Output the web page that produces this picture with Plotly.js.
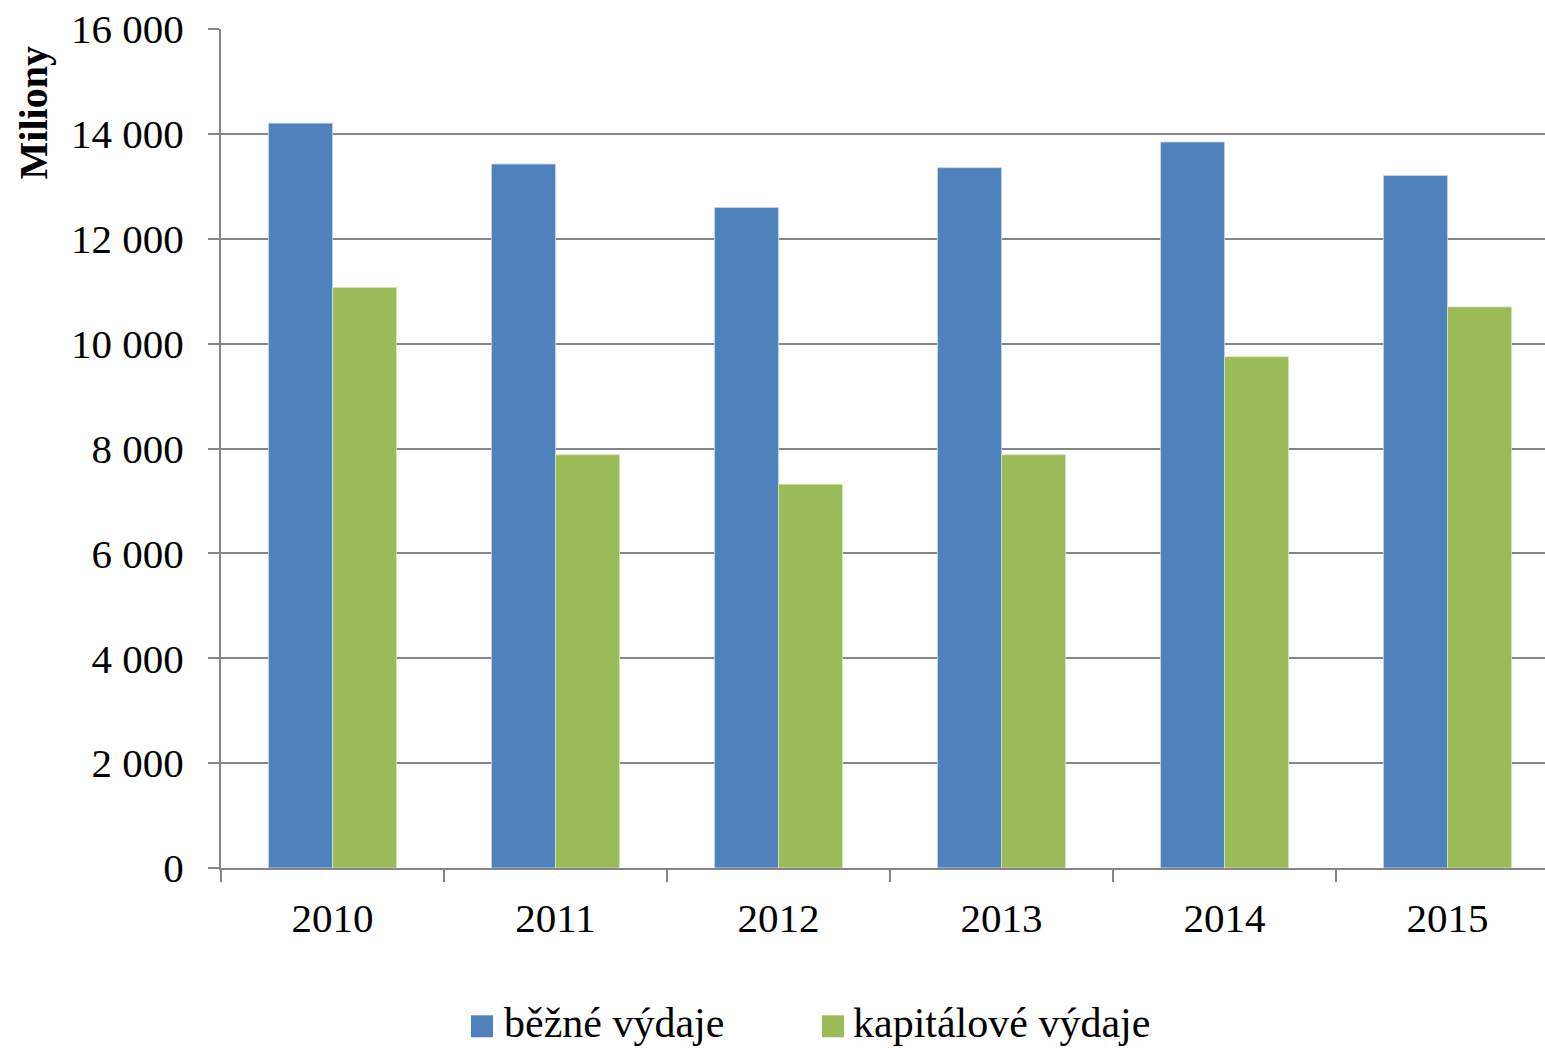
<!DOCTYPE html>
<html>
<head>
<meta charset="utf-8">
<script src="https://cdn.plot.ly/plotly-3.0.1.min.js"></script>
<style>html,body{margin:0;padding:0;background:#fff;}#chart{width:1545px;height:1048px;}</style>
</head>
<body>
<div id="chart"></div>
<script>
const years = ['2010', '2011', '2012', '2013', '2014', '2015'];
const bezneVydaje = [14205, 13425, 12595, 13355, 13845, 13205];
const kapitaloveVydaje = [11070, 7880, 7318, 7880, 9750, 10700];
const seriesNames = ['běžné výdaje', 'kapitálové výdaje'];
const seriesColors = ['#4F81BD', '#9BBB59'];
const yTicks = [0, 2000, 4000, 6000, 8000, 10000, 12000, 14000, 16000];

const font = 'Liberation Serif, Times New Roman, serif';
const grey = '#868686';

const traces = [
  {type: 'bar', name: seriesNames[0], x: years, y: bezneVydaje,
   marker: {color: seriesColors[0], line: {color: 'rgba(200,215,235,0.8)', width: 1}}},
  {type: 'bar', name: seriesNames[1], x: years, y: kapitaloveVydaje,
   marker: {color: seriesColors[1], line: {color: 'rgba(215,228,190,0.8)', width: 1}}}
];

// pixel -> paper helpers (plot area: x 221..1545, y 28.5..868.5)
const px = v => (v - 221) / 1324;
const py = v => (868.5 - v) / 840;

// manual legend (squares + labels)
const legendItems = [
  {sq: [471, 493], tx: 504},
  {sq: [822, 844], tx: 853}
];
const shapes = legendItems.map((it, i) => ({
  type: 'rect', xref: 'paper', yref: 'paper',
  x0: px(it.sq[0]), x1: px(it.sq[1]), y0: py(1038), y1: py(1016),
  fillcolor: seriesColors[i], line: {width: 0}
}));
const legendLabels = legendItems.map((it, i) => ({
  text: seriesNames[i], xref: 'paper', yref: 'paper',
  x: px(it.tx), xanchor: 'left', xshift: -2,
  y: py(1024), yanchor: 'middle', showarrow: false,
  font: {family: font, size: 42, color: '#000'}
}));

const layout = {
  width: 1545, height: 1048,
  paper_bgcolor: '#fff', plot_bgcolor: '#fff',
  separators: ', ',
  margin: {l: 221, r: 0, t: 28.5, b: 179.5, pad: 0},
  barmode: 'group',
  bargap: 0.426,
  bargroupgap: 0,
  font: {family: font, size: 41, color: '#000'},
  xaxis: {
    type: 'category',
    range: [-0.5, 5.437],
    tickson: 'boundaries',
    ticks: 'outside', ticklen: 12, tickwidth: 2, tickcolor: grey,
    showline: true, linecolor: grey, linewidth: 2,
    showgrid: false, zeroline: false,
    tickfont: {family: font, size: 41, color: '#000'},
    ticklabelstandoff: 13
  },
  yaxis: {
    range: [0, 16000],
    tickvals: yTicks,
    tickformat: ',d',
    ticks: 'outside', ticklen: 11, tickwidth: 2, tickcolor: grey,
    showline: true, linecolor: grey, linewidth: 2,
    showgrid: true, gridcolor: grey, gridwidth: 2,
    zeroline: false,
    tickfont: {family: font, size: 41, color: '#000'},
    ticklabelstandoff: 16
  },
  showlegend: false,
  shapes: shapes,
  annotations: [{
    text: '<b>Miliony</b>',
    xref: 'paper', yref: 'paper',
    x: px(33), xanchor: 'center',
    y: py(112), yanchor: 'middle',
    textangle: -90, showarrow: false,
    font: {family: font, size: 40, color: '#000'}
  }].concat(legendLabels)
};

Plotly.newPlot('chart', traces, layout, {displayModeBar: false, staticPlot: true});
</script>
</body>
</html>
